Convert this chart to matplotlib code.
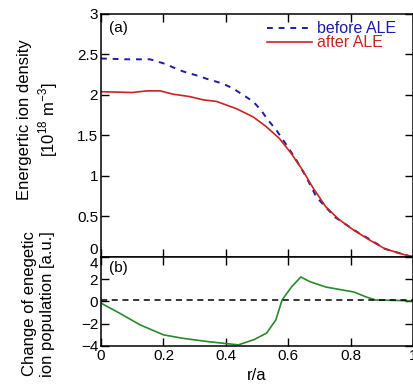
import numpy as np
import matplotlib
matplotlib.use("Agg")
from matplotlib import pyplot as plt

plt.rcParams['font.family'] = ['Liberation Sans', 'DejaVu Sans']
plt.rcParams['mathtext.fontset'] = 'custom'
plt.rcParams['mathtext.rm'] = 'Liberation Sans'

# before ALE (blue dashed)
r_before = [0.0, 0.08, 0.157, 0.20, 0.263, 0.316, 0.338, 0.39, 0.423, 0.455, 0.487, 0.513, 0.535,
            0.561, 0.598, 0.625, 0.657, 0.69, 0.75, 0.82, 0.86, 0.91, 0.97, 1.0]
n_before = [2.45, 2.44, 2.44, 2.39, 2.29, 2.23, 2.20, 2.14, 2.08, 2.00, 1.92, 1.81, 1.69,
            1.57, 1.36, 1.20, 0.99, 0.74, 0.49, 0.31, 0.22, 0.10, 0.03, 0.0]

# after ALE (red solid)
r_after = [0.0, 0.10, 0.146, 0.19, 0.23, 0.284, 0.327, 0.37, 0.434, 0.487, 0.529, 0.572, 0.609,
           0.646, 0.678, 0.72, 0.76, 0.81, 0.86, 0.91, 0.97, 1.0]
n_after = [2.04, 2.03, 2.05, 2.05, 2.01, 1.98, 1.94, 1.92, 1.83, 1.73, 1.61, 1.46, 1.28,
           1.07, 0.86, 0.62, 0.47, 0.33, 0.21, 0.10, 0.03, 0.0]

# change of energetic ion population (green)
r_diff = [0.0, 0.06, 0.125, 0.20, 0.26, 0.34, 0.39, 0.44, 0.49, 0.53, 0.56, 0.58, 0.61, 0.64,
          0.67, 0.72, 0.75, 0.81, 0.85, 0.88, 0.94, 1.0]
d_diff = [-0.15, -1.06, -2.1, -3.0, -3.3, -3.6, -3.75, -3.9, -3.43, -2.85, -1.66, 0.13, 1.3, 2.2,
          1.77, 1.3, 1.15, 0.85, 0.4, 0.13, 0.1, 0.05]

fig = plt.figure(figsize=(4.14, 3.87), dpi=100)
ax1 = fig.add_axes([0.244, 0.336, 0.754, 0.628])
ax2 = fig.add_axes([0.244, 0.106, 0.754, 0.230], sharex=ax1)

ax1.plot(r_before, n_before, color='#1c1ca8', ls=(0, (3, 3)), lw=1.4, label='before ALE')
ax1.plot(r_after, n_after, color='#cc2222', lw=1.2, label='after ALE')
ax1.set_xlim(0, 1)
ax1.set_ylim(0, 3)
ax1.set_yticks([0, 0.5, 1, 1.5, 2, 2.5, 3])
ax1.set_yticklabels(['0', '0.5', '1', '1.5', '2', '2.5', '3'])
ax1.tick_params(labelbottom=False)
ax1.text(0.025, 0.97, '(a)', transform=ax1.transAxes, ha='left', va='top', fontsize=11)
ax1.legend(loc='upper right', bbox_to_anchor=(0.945, 0.97), frameon=False,
           labelcolor='linecolor', fontsize=11.5, handlelength=2.8, handletextpad=0.3,
           borderaxespad=0, borderpad=0, labelspacing=-0.05)

ax2.plot(r_diff, d_diff, color='#2a8a2a', lw=1.2)
ax2.axhline(0.1, color='black', ls=(0, (4, 3)), lw=1.1)
ax2.set_ylim(-4, 4)
ax2.set_yticks([-4, -2, 0, 2, 4])
ax2.set_xticks([0, 0.2, 0.4, 0.6, 0.8, 1])
ax2.set_xticklabels(['0', '0.2', '0.4', '0.6', '0.8', '1'])
ax2.set_xlabel('r/a', fontsize=12, labelpad=4)
ax2.text(0.025, 0.95, '(b)', transform=ax2.transAxes, ha='left', va='top', fontsize=11)

for ax in (ax1, ax2):
    ax.tick_params(direction='in', top=True, right=True, length=6, width=1, labelsize=11, pad=2)
    for s in ax.spines.values():
        s.set_linewidth(1.1)

# keep the shared edge labels apart
ax1.get_yticklabels()[0].set_va('bottom')
ax2.get_yticklabels()[-1].set_va('top')

fig.text(0.092, 0.69, 'Energertic ion density\n[10$^{18}$ m$^{-3}$]', rotation=90,
         ha='center', va='center', multialignment='center', fontsize=12, linespacing=1.25)
fig.text(0.092, 0.215, 'Change of enegetic\nion population [a.u.]', rotation=90,
         ha='center', va='center', multialignment='center', fontsize=12, linespacing=1.25)

fig.savefig('out.png', dpi=100)
